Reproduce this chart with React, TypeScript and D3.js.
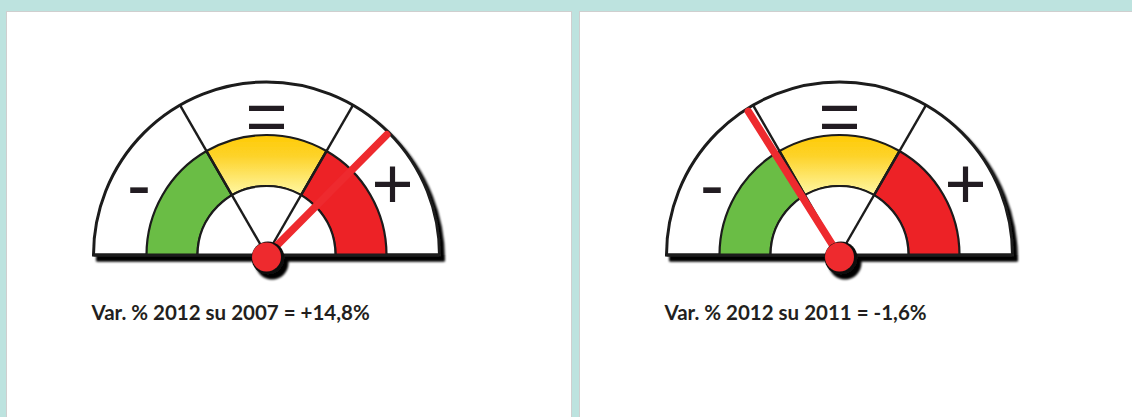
import React from "react";
import * as d3 from "d3";

// ---- data ----
const panelTitles = ["Var. % 2012 su 2007 = +14,8%", "Var. % 2012 su 2011 = -1,6%"];
const variations = [14.8, -1.6];
// needle position along the dial, 0 = far "-" end, 100 = far "+" end
const needlePositions = [75, 32];
const zoneLabels = ["-", "=", "+"];
const zoneNames = ["down", "flat", "up"];

const W = 1132;
const H = 417;

const panelXs = [6.5, 579.5];
const panelWidths = [565, 560];

const R_OUT = 173;
const R_BAND_OUT = 120;
const R_BAND_IN = 69;

const angleScale = d3.scaleLinear().domain([0, 100]).range([-Math.PI / 2, Math.PI / 2]);
const zoneScale = d3.scaleLinear().domain([0, zoneNames.length]).range([-Math.PI / 2, Math.PI / 2]);

function Gauge({ idx, cx, cy }: { idx: number; cx: number; cy: number }) {
  const outer = d3.arc<any>()({
    innerRadius: 0,
    outerRadius: R_OUT,
    startAngle: -Math.PI / 2,
    endAngle: Math.PI / 2,
  }) as string;
  const inner = d3.arc<any>()({
    innerRadius: 0,
    outerRadius: R_BAND_IN,
    startAngle: -Math.PI / 2,
    endAngle: Math.PI / 2,
  }) as string;
  const fills = ["#6ABD45", `url(#yellowGrad${idx})`, "#ED2026"];
  const bands = zoneNames.map((n, i) => ({
    name: n,
    d: d3.arc<any>()({
      innerRadius: R_BAND_IN,
      outerRadius: R_BAND_OUT,
      startAngle: zoneScale(i),
      endAngle: zoneScale(i + 1),
    }) as string,
    fill: fills[i],
  }));
  const dividers = d3.range(1, zoneNames.length).map((i) => zoneScale(i));
  const a = angleScale(needlePositions[idx]);
  const needleLen = 170;
  const tipX = Math.sin(a) * needleLen;
  const tipY = -Math.cos(a) * needleLen;
  const labelPos = [
    { x: -127.5, y: -46 },
    { x: 0, y: -114.5 },
    { x: 126, y: -47 },
  ];
  return (
    <g transform={`translate(${cx},${cy})`} filter="url(#shadow)">
      <defs>
        <linearGradient
          id={`yellowGrad${idx}`}
          gradientUnits="userSpaceOnUse"
          x1={0}
          y1={-R_BAND_OUT}
          x2={0}
          y2={-R_BAND_IN + 10}
        >
          <stop offset="0" stopColor="#FFCB05" />
          <stop offset="0.35" stopColor="#FDD32A" />
          <stop offset="1" stopColor="#FFF9A8" />
        </linearGradient>
      </defs>
      <path d={outer} fill="#fff" stroke="#1a1a1a" strokeWidth={3} strokeLinejoin="miter" />
      {bands.map((b) => (
        <path key={b.name} d={b.d} fill={b.fill} stroke="#1a1a1a" strokeWidth={2.2} />
      ))}
      <path d={inner} fill="#fff" stroke="#1a1a1a" strokeWidth={2.2} />
      {dividers.map((ang, i) => (
        <line
          key={i}
          x1={0}
          y1={0}
          x2={Math.sin(ang) * R_OUT}
          y2={-Math.cos(ang) * R_OUT}
          stroke="#1a1a1a"
          strokeWidth={2.4}
        />
      ))}
      <line x1={-R_OUT} y1={0} x2={R_OUT} y2={0} stroke="#1a1a1a" strokeWidth={3} />
      {zoneLabels.map((t, i) => (
        <text
          key={i}
          x={labelPos[i].x}
          y={labelPos[i].y}
          textAnchor="middle"
          fontFamily="'Liberation Sans', Arial, sans-serif"
          fontSize={72}
          fill="#231F20"
        >
          {t}
        </text>
      ))}
      <line x1={0} y1={1} x2={tipX} y2={tipY} stroke="#EE2A2F" strokeWidth={7.5} strokeLinecap="round" />
      <circle cx={1.5} cy={3} r={16.5} fill="#111" />
      <circle cx={0} cy={2} r={14.5} fill="#EE2A2F" />
    </g>
  );
}

export default function App() {
  return (
    <svg
      width={W}
      height={H}
      viewBox={`0 0 ${W} ${H}`}
      style={{ position: "fixed", left: 0, top: 0, display: "block" }}
    >
      <defs>
        <filter id="shadow" x="-20%" y="-20%" width="140%" height="140%">
          <feDropShadow dx={4} dy={5} stdDeviation={1.2} floodColor="#000" floodOpacity={1} />
        </filter>
      </defs>
      <rect x={0} y={0} width={W} height={H} fill="#BDE3DF" />
      {panelXs.map((px, i) => (
        <g key={i}>
          <rect x={px} y={11.5} width={panelWidths[i]} height={H} fill="#fff" stroke="#cfcfcf" strokeWidth={1} />
          <Gauge idx={i} cx={px + 260} cy={255} />
          <text
            x={px + 85}
            y={319.5}
            fontFamily="Lato, 'Open Sans', sans-serif"
            fontWeight={700}
            fontSize={20.5}
            fill="#231F20"
            data-value={variations[i]}
          >
            {panelTitles[i]}
          </text>
        </g>
      ))}
    </svg>
  );
}
